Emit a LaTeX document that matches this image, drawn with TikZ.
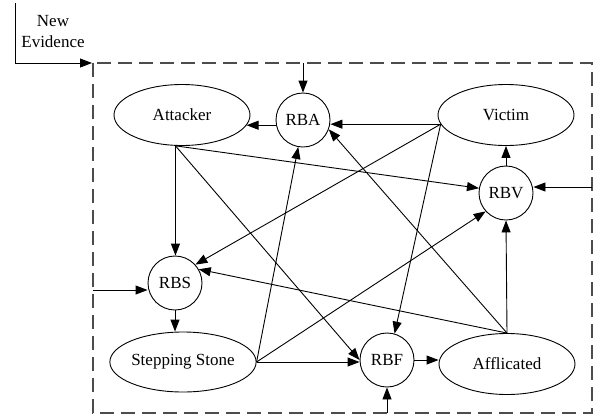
\documentclass[tikz,border=0pt]{standalone}
\usepackage{fontspec}
\setmainfont{Liberation Serif}
\usetikzlibrary{shapes.geometric,arrows.meta}
\begin{document}
\begin{tikzpicture}[x=1pt,y=-1pt,
  every node/.style={font=\fontsize{17}{21}\selectfont},
  ell/.style={draw,ellipse,line width=0.9pt,minimum width=136pt,minimum height=61pt,inner sep=0pt},
  circ/.style={draw,circle,line width=0.9pt,minimum size=54pt,inner sep=0pt},
  arr/.style={line width=0.9pt,-{Triangle[length=12pt,width=9pt]}},
  boxline/.style={line width=1.3pt,dash pattern=on 14pt off 7pt,gray!60!black}]
\useasboundingbox (0,0) rectangle (600,416);
% dashed boundary
\draw[boxline] (93,63) rectangle (592,413);
% nodes
\node[ell] (Att) at (182,115) {Attacker};
\node[ell] (Vic) at (506,115) {Victim};
\node[ell,minimum height=60pt] (SS) at (183,362) {Stepping Stone};
\node[ell] (Aff) at (507,364) {Afflicated};
\node[circ] (RBA) at (303,120) {RBA};
\node[circ] (RBV) at (506,193) {RBV};
\node[circ] (RBS) at (175,283) {RBS};
\node[circ] (RBF) at (387,360) {RBF};
\node[align=center] (ne) at (53,32) {New\\Evidence};
% inputs
\coordinate (neTop) at (15,3);
\coordinate (neEnd) at (92,63);
\coordinate (inA) at (303,63);
\coordinate (inS) at (93,290);
\coordinate (inV) at (592,187);
\coordinate (inF) at (387,413);
\draw[arr] (neTop) |- (neEnd);
\draw[arr] (inA) -- (RBA.north);
\draw[arr] (inS) -- (inS -| RBS.west);
\draw[arr] (inV) -- (inV -| RBV.east);
\draw[arr] (inF) -- (RBF.south);
% edges
\draw[arr] (RBA.west |- Att.351) -- (Att.351);
\draw[arr] (Vic.188) -- (Vic.188 -| RBA.east);
\draw[arr] (Att.258) -- (Att.258 |- RBS.north);
\draw[arr] (Att.258) -- (RBV.170);
\draw[arr] (Att.258) -- (RBF.west);
\draw[arr] (Vic.188) -- (RBS.42);
\draw[arr] (Vic.188) -- (RBF.74);
\draw[arr] (Aff.north) -- (RBS.30);
\draw[arr] (Aff.north) -- (RBA.340);
\draw[arr] (Aff.north) -- (RBV.south);
\draw[arr] (RBV.north) -- (Vic.south);
\draw[arr] (SS.east) -- (RBA.260);
\draw[arr] (SS.east) -- (RBV.222);
\draw[arr] (SS.east) -- (SS.east -| RBF.west);
\draw[arr] (RBF.east) -- (RBF.east -| Aff.west);
\draw[arr] (RBS.south) -- (RBS.south |- SS.north);
\end{tikzpicture}
\end{document}
